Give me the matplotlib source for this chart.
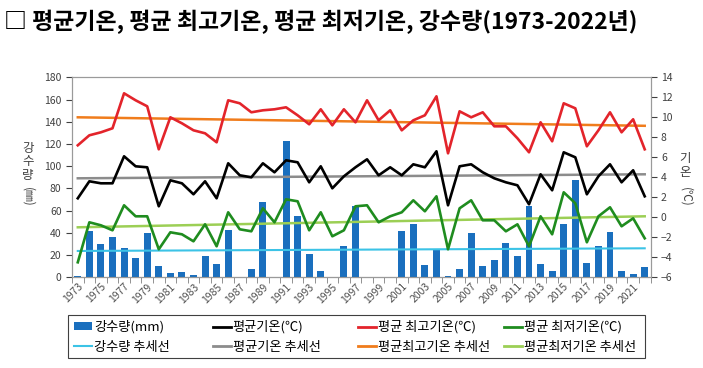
import matplotlib
matplotlib.use("Agg")
import matplotlib.pyplot as plt
from matplotlib.patches import Patch, Rectangle
from matplotlib.lines import Line2D
from matplotlib.ticker import FixedLocator
import numpy as np

plt.rcParams['font.family'] = ['Noto Sans CJK KR', 'DejaVu Sans']

years = list(range(1973, 2023))
precip = [1, 42, 30, 36, 26, 17, 40, 10, 4, 5, 2, 19, 12, 43, 0, 7.5, 68, 0, 123, 55,
          21, 6, 0, 28, 64, 0, 0, 0.6, 42, 48, 11, 25, 1, 7.5, 40, 10, 16, 31, 19, 64,
          12, 6, 48, 88, 13, 28, 41, 5.4, 3, 9.6]
avg_temp = [1.9, 3.6, 3.4, 3.4, 6.1, 5.1, 5.0, 1.1, 3.7, 3.4, 2.3, 3.6, 1.9, 5.4, 4.2, 4.0,
            5.4, 4.5, 5.7, 5.5, 3.5, 5.1, 2.9, 4.1, 5.0, 5.8, 4.2, 5.0, 4.2, 5.3, 5.0, 6.6,
            1.2, 5.1, 5.3, 4.5, 3.9, 3.5, 3.2, 1.3, 4.3, 2.7, 6.5, 6.0, 2.3, 4.1, 5.3, 3.5,
            4.7, 2.1]
max_temp = [7.2, 8.2, 8.5, 8.9, 12.4, 11.7, 11.1, 6.8, 10.0, 9.4, 8.7, 8.4, 7.5, 11.7, 11.4,
            10.5, 10.7, 10.8, 11.0, 10.2, 9.3, 10.8, 9.2, 10.8, 9.5, 11.7, 9.7, 10.7, 8.7,
            9.7, 10.2, 12.1, 6.4, 10.6, 10.0, 10.5, 9.1, 9.1, 7.9, 6.5, 9.5, 7.6, 11.4, 10.9,
            7.1, 8.7, 10.5, 8.5, 9.8, 6.8]
min_temp = [-4.5, -0.5, -0.8, -1.3, 1.2, 0.1, 0.1, -3.2, -1.5, -1.7, -2.4, -0.7, -2.9, 0.5,
            -1.2, -1.4, 0.9, -0.5, 1.8, 1.6, -1.3, 0.5, -1.9, -1.3, 1.1, 1.2, -0.5, 0.1, 0.5,
            1.7, 0.6, 2.1, -3.2, 0.9, 1.7, -0.3, -0.3, -1.4, -0.7, -2.9, 0.1, -1.7, 2.5, 1.4,
            -2.5, 0.1, 1.0, -0.9, -0.1, -2.1]
# trend line end points (first year, last year)
precip_trend = [23.7, 26.1]
avg_trend = [3.9, 4.3]
max_trend = [10.0, 9.15]
min_trend = [-1.0, 0.1]

title = "□ 평균기온, 평균 최고기온, 평균 최저기온, 강수량(1973-2022년)"

c_bar = '#1a6fbe'
c_avg = '#000000'
c_max = '#e3242b'
c_min = '#1f8c1f'
c_ptr = '#3cc3e6'
c_atr = '#8c8c8c'
c_mxt = '#f07c1c'
c_mnt = '#9ccf55'

W, H = 703, 368
fig = plt.figure(figsize=(W / 100, H / 100), dpi=100)
ax = fig.add_axes([72 / W, 1 - 277.3 / H, 578.5 / W, 200 / H])
ax2 = ax.twinx()

x = np.arange(len(years))
ax.bar(x, precip, width=0.6, color=c_bar, zorder=2)
ends = [x[0], x[-1]]
ax.plot(ends, precip_trend, color=c_ptr, lw=1.5, zorder=3)

lw = 1.9
ax2.plot(ends, max_trend, color=c_mxt, lw=1.8, zorder=3)
ax2.plot(ends, avg_trend, color=c_atr, lw=1.8, zorder=3)
ax2.plot(ends, min_trend, color=c_mnt, lw=1.8, zorder=3)
ax2.plot(x, max_temp, color=c_max, lw=lw, zorder=4)
ax2.plot(x, avg_temp, color=c_avg, lw=lw, zorder=4)
ax2.plot(x, min_temp, color=c_min, lw=lw, zorder=4)

ax.set_xlim(-0.5, len(years) - 0.5)
ax.set_ylim(0, 180)
ax.set_yticks(range(0, 181, 20))
ax2.set_ylim(-6, 14)
ax2.set_yticks(range(-6, 15, 2))

ax.set_xticks(x[::2])
ax.set_xticklabels([str(y) for y in years[::2]], rotation=45, ha='right',
                   rotation_mode='anchor', fontsize=7.5, color='#505050')
ax.xaxis.set_minor_locator(FixedLocator(np.arange(-0.5, len(years), 1.0)))
ax.tick_params(axis='x', which='major', length=0, pad=3)
ax.tick_params(axis='x', which='minor', length=4, color='#808080')
ax.tick_params(axis='y', labelsize=7.5, colors='#404040', length=4)
ax2.tick_params(axis='y', labelsize=7.5, colors='#404040', length=4)
for a in (ax, ax2):
    for s in a.spines.values():
        s.set_color('#9a9a9a')
        s.set_linewidth(0.8)
ax.spines['bottom'].set_color('#606060')

# axis titles (stacked)
fig.text(0.040, 0.56, "강\n수\n량", ha='center', va='center', fontsize=9,
         linespacing=1.05, color='#404040')
fig.text(0.040, 0.465, "(㎜)", ha='center', va='center', fontsize=8.5,
         rotation=-90, color='#404040')
fig.text(0.975, 0.55, "기\n온", ha='center', va='center', fontsize=9,
         linespacing=1.05, color='#404040')
fig.text(0.975, 0.465, "(℃)", ha='center', va='center', fontsize=8.5,
         rotation=-90, color='#404040')

fig.text(0.006, 0.94, title, ha='left', va='center', fontsize=16.5,
         fontweight='bold', color='black')

# legend: boxed, four equal columns
fig.patches.append(Rectangle((68 / W, 1 - 358 / H), 577 / W, 43 / H,
                             transform=fig.transFigure, fill=False,
                             edgecolor='#404040', linewidth=0.8))
columns = [
    [Patch(facecolor=c_bar, label='강수량(mm)'),
     Line2D([], [], color=c_ptr, lw=1.5, label='강수량 추세선')],
    [Line2D([], [], color=c_avg, lw=2, label='평균기온(℃)'),
     Line2D([], [], color=c_atr, lw=2, label='평균기온 추세선')],
    [Line2D([], [], color=c_max, lw=2, label='평균 최고기온(℃)'),
     Line2D([], [], color=c_mxt, lw=2, label='평균최고기온 추세선')],
    [Line2D([], [], color=c_min, lw=2, label='평균 최저기온(℃)'),
     Line2D([], [], color=c_mnt, lw=2, label='평균최저기온 추세선')],
]
col_x = [74, 213, 358, 504]
for hs, cx in zip(columns, col_x):
    lg = fig.legend(handles=hs, loc='center left',
                    bbox_to_anchor=(cx / W, 1 - 337 / H), fontsize=9.5,
                    frameon=False, handlelength=1.4, handleheight=0.6,
                    handletextpad=0.1, labelspacing=0.5, borderpad=0,
                    borderaxespad=0)

fig.savefig('out.png', dpi=100)
